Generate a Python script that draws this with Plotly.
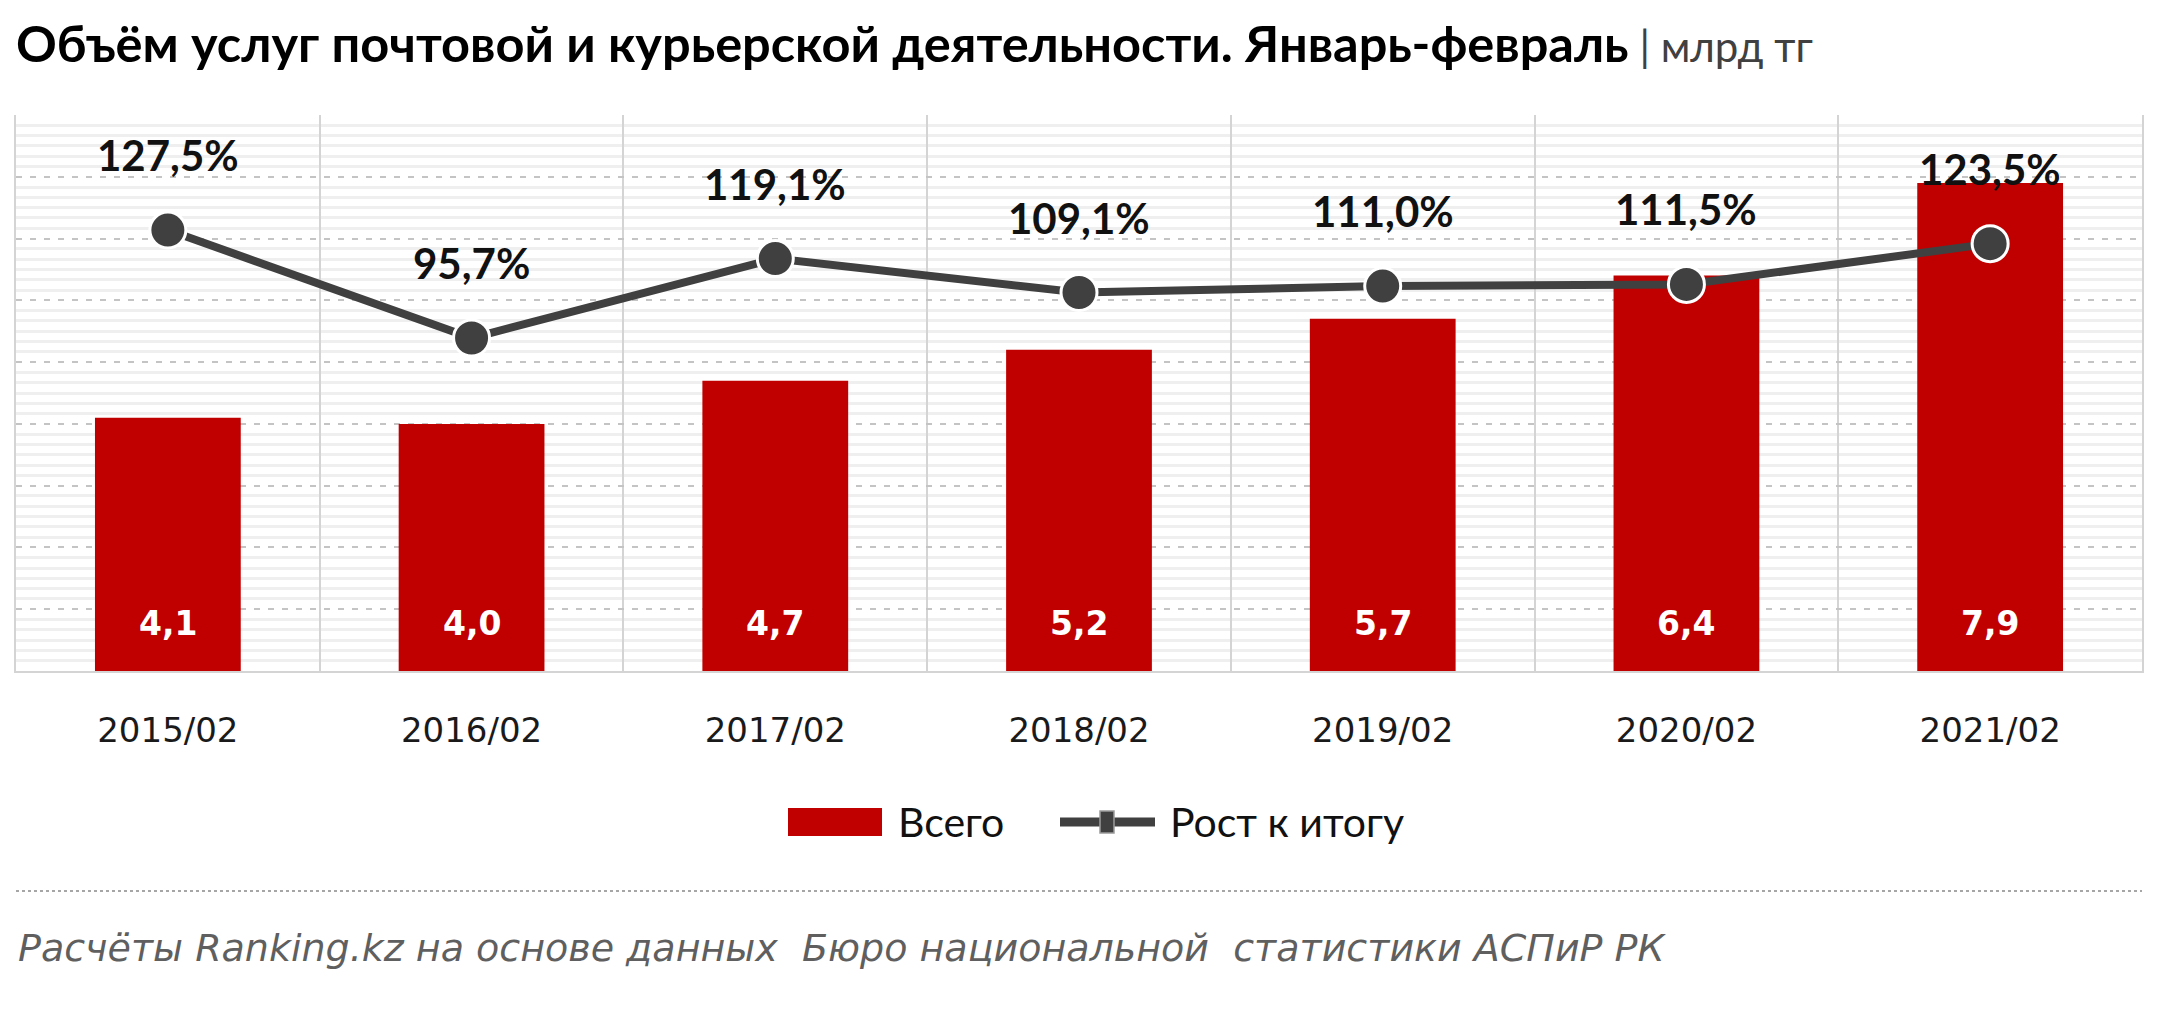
import plotly.graph_objects as go

periods = ["2015/02", "2016/02", "2017/02", "2018/02", "2019/02", "2020/02", "2021/02"]
total_bn_tenge = [4.1, 4.0, 4.7, 5.2, 5.7, 6.4, 7.9]
growth_pct = [127.5, 95.7, 119.1, 109.1, 111.0, 111.5, 123.5]

title_main = "Объём услуг почтовой и курьерской деятельности. Январь-февраль"
title_unit = " | млрд тг"
bar_name = "Всего"
line_name = "Рост к итогу"
source_text = "Расчёты Ranking.kz на основе данных  Бюро национальной  статистики АСПиР РК"

RED = "#c00000"
DARK = "#404040"

W, H = 2160, 1010
ML, MR, MT, MB = 16, 18, 115, 339
PW = W - ML - MR
PH = H - MT - MB


def px_x(p):
    return (p - ML) / PW


def px_y(p):
    return (H - MB - p) / PH


fig = go.Figure()
fig.add_trace(go.Bar(
    x=periods, y=total_bn_tenge, name=bar_name,
    marker=dict(color=RED, line=dict(width=0)),
    hoverinfo="skip", showlegend=False,
))
fig.add_trace(go.Scatter(
    x=periods, y=growth_pct, name=line_name, yaxis="y2",
    mode="lines+markers",
    line=dict(color=DARK, width=8),
    marker=dict(size=36, color=DARK, line=dict(color="white", width=3)),
    hoverinfo="skip", showlegend=False,
))

annotations = []
for p, v in zip(periods, growth_pct):
    annotations.append(dict(
        x=p, y=v, xref="x", yref="y2", yshift=75,
        text=f"{v:.1f}%".replace(".", ","), showarrow=False,
        font=dict(family="Lato", size=42, color="#111111", weight="bold"),
        xanchor="center", yanchor="middle",
    ))
for p, v in zip(periods, total_bn_tenge):
    annotations.append(dict(
        x=p, y=0, xref="x", yref="y", yshift=48,
        text=f"{v:.1f}".replace(".", ","), showarrow=False,
        font=dict(family="DejaVu Sans", size=33, color="white", weight="bold"),
        xanchor="center", yanchor="middle",
    ))

# legend texts
annotations.append(dict(
    x=px_x(896), y=px_y(822), xref="paper", yref="paper",
    text=bar_name, showarrow=False, xanchor="left", yanchor="middle",
    font=dict(family="Lato", size=41, color="#111111"),
))
annotations.append(dict(
    x=px_x(1168), y=px_y(822), xref="paper", yref="paper",
    text=line_name, showarrow=False, xanchor="left", yanchor="middle",
    font=dict(family="Lato", size=41, color="#111111"),
))
# source
annotations.append(dict(
    x=px_x(16), y=px_y(948), xref="paper", yref="paper",
    text=source_text, showarrow=False, xanchor="left", yanchor="middle",
    font=dict(family="DejaVu Sans", size=38, color="#5f5f5f", style="italic"),
))

shapes = [
    # legend bar symbol
    dict(type="rect", xref="paper", yref="paper",
         x0=px_x(788), x1=px_x(882), y0=px_y(836), y1=px_y(808),
         fillcolor=RED, line=dict(width=0)),
    # legend line symbol
    dict(type="line", xref="paper", yref="paper",
         x0=px_x(1060), x1=px_x(1155), y0=px_y(822), y1=px_y(822),
         line=dict(color=DARK, width=9)),
    dict(type="rect", xref="paper", yref="paper",
         x0=px_x(1100), x1=px_x(1114), y0=px_y(833), y1=px_y(811),
         fillcolor=DARK, line=dict(color="#9a9a9a", width=1.5)),
    # separator
    dict(type="line", xref="paper", yref="paper",
         x0=px_x(16), x1=px_x(2142), y0=px_y(891), y1=px_y(891),
         line=dict(color="#a6a6a6", width=2, dash="dot")),
]

fig.update_layout(
    width=W, height=H,
    margin=dict(l=ML, r=MR, t=MT, b=MB, pad=0),
    paper_bgcolor="white", plot_bgcolor="white",
    separators=", ",
    bargap=0.52,
    showlegend=False,
    title=dict(
        text=f"<b>{title_main}</b><span style='font-weight:normal;color:#404040;font-size:42px'>{title_unit}</span>",
        x=16 / W, xanchor="left", xref="container",
        y=1 - 44 / H, yanchor="middle", yref="container",
        font=dict(family="Lato", size=50.5, color="#000000"),
    ),
    xaxis=dict(
        type="category",
        tickson="boundaries",
        showgrid=True, gridcolor="#d4d4d4", gridwidth=2,
        showline=True, linecolor="#d4d4d4", linewidth=2, mirror=False,
        ticks="", ticklabelstandoff=28,
        tickfont=dict(family="DejaVu Sans", size=34, color="#1a1a1a"),
        range=[-0.5, 6.5],
        zeroline=False,
    ),
    yaxis=dict(
        range=[0, 9], dtick=1, tick0=0,
        showgrid=True, gridcolor="#c4c4c4", gridwidth=2, griddash="6px,8px",
        showticklabels=False, ticks="", zeroline=False,
        minor=dict(dtick=1 / 6, showgrid=True, gridcolor="#efefef", gridwidth=3,
                   griddash="solid"),
        showline=True, linecolor="#d4d4d4", linewidth=2, mirror=True,
    ),
    yaxis2=dict(
        overlaying="y", range=[-2.4, 161.4], visible=False,
        showgrid=False, zeroline=False,
    ),
    annotations=annotations,
    shapes=shapes,
)

fig.write_html("out.html")
